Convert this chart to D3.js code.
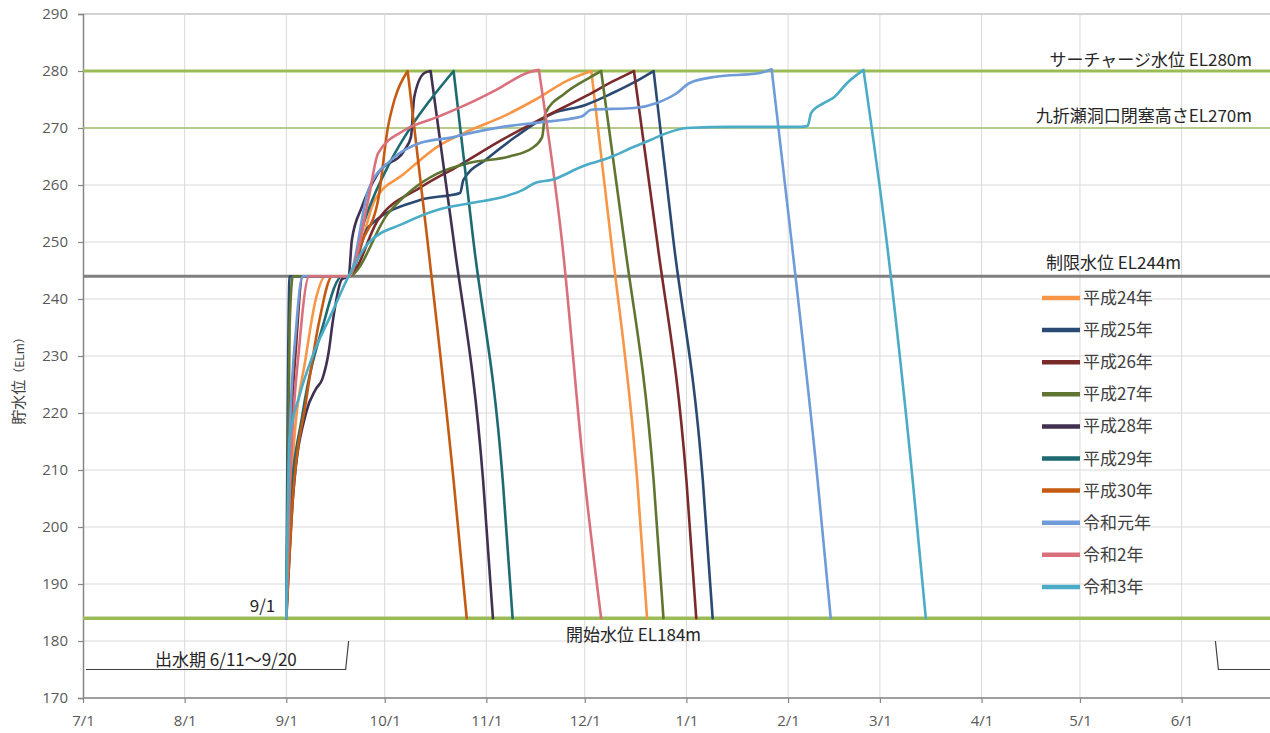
<!DOCTYPE html>
<html><head><meta charset="utf-8">
<script src="https://cdn.jsdelivr.net/npm/d3@7"></script>
<style>
body{margin:0;background:#fff}
svg{display:block}
text{font-family:"Noto Sans CJK JP","Noto Sans",sans-serif}
</style>
</head><body>
<svg id="chart" width="1270" height="733"></svg>
<script>
// ---------- data ----------
const monthTicks = ["7/1","8/1","9/1","10/1","11/1","12/1","1/1","2/1","3/1","4/1","5/1","6/1"];
const yTicks = [170,180,190,200,210,220,230,240,250,260,270,280,290];
const seriesNames = ["平成24年","平成25年","平成26年","平成27年","平成28年","平成29年","平成30年","令和元年","令和2年","令和3年"];
const seriesColors = ["#f79646","#2b4a73","#7b2a2c","#5f7530","#403152","#1d6a70","#c55a11","#6f9bd8","#d9707c","#4aacc6"];

const h24 = [["9/1",184],["9/3",212],["9/7",230],["9/10",240],["9/13",244],["9/20",244],["9/28",257.4],["10/7",262],["10/17",266.7],["10/27",269.6],["11/6",272],["11/16",275],["11/26",278.4],["12/3",280],["12/9",250.4],["12/17",208.2],["12/20",184]];
const h25 = [["9/1",184],["9/2",244],["9/20",244],["9/26",252.6],["10/12",257.4],["10/24",258.6],["10/25",260.9],["11/1",264.5],["11/10",268.5],["11/21",272.5],["12/1",274],["12/9",276],["12/16",278],["12/22",280],["12/28",250.4],["1/6",208.2],["1/9",184]];
const h26 = [["9/1",184],["9/2",210],["9/4",232],["9/6",244],["9/20",244],["9/29",253.9],["10/12",259.6],["10/23",263.2],["11/6",268],["11/19",272],["12/1",275.5],["12/10",278.3],["12/16",280],["12/23",250.4],["1/1",208.2],["1/4",184]];
const h27 = [["9/1",184],["9/2",235],["9/3",244],["9/20",244],["10/2",255],["10/9",259],["10/17",262],["10/27",263.9],["11/8",265],["11/15",266.5],["11/18",268.4],["11/19",272.6],["11/25",276.1],["12/3",279],["12/6",280],["12/13",250.4],["12/22",208.2],["12/25",184]];
const h28 = [["9/1",184],["9/3",205],["9/7",220],["9/10",224.2],["9/12",226],["9/14",231],["9/15",235.4],["9/18",243.5],["9/20",244],["9/21",250.4],["9/24",256.1],["9/29",262.1],["10/7",266.1],["10/9",268.4],["10/10",275.4],["10/13",279.6],["10/15",280],["10/22",250.4],["10/31",208.2],["11/3",184]];
const h29 = [["9/1",184],["9/2",202],["9/6",220],["9/12",235],["9/18",244],["9/20",244],["9/25",254],["10/3",264.4],["10/9",270.2],["10/15",275],["10/22",280],["10/28",250.4],["11/6",208.2],["11/9",184]];
const h30 = [["9/1",184],["9/3",205],["9/7",222],["9/11",236],["9/15",244],["9/20",244],["9/24",250],["9/29",257.4],["10/2",270.2],["10/4",275],["10/8",280],["10/14",250.4],["10/22",208.2],["10/26",184]];
const r1 = [["9/1",184],["9/2",215],["9/4",235],["9/6",244],["9/20",244],["9/26",259.1],["10/3",264.4],["10/12",267.4],["10/22",268.4],["10/27",269.1],["11/6",270.2],["11/16",270.9],["11/30",272],["12/3",273.2],["12/16",273.5],["12/23",274.4],["12/29",276.1],["1/2",277.9],["1/10",279],["1/23",279.6],["1/27",280.3],["2/2",250.4],["2/10",208.2],["2/14",184]];
const r2 = [["9/1",184],["9/2",205],["9/5",232],["9/8",244],["9/20",244],["9/26",257.4],["9/29",265.6],["10/7",269.6],["10/17",271.9],["10/27",274.4],["11/4",276.7],["11/14",279.8],["11/17",280.2],["11/24",250.4],["12/1",208.2],["12/6",184]];
const r3 = [["9/1",184],["9/2",215.4],["9/5",223],["9/9",230],["9/15",237.7],["9/20",244],["9/26",249.8],["10/7",253.3],["10/17",255.6],["10/27",256.8],["11/6",257.9],["11/12",259.1],["11/16",260.4],["11/21",260.9],["11/30",263.2],["12/9",264.9],["12/16",266.7],["12/21",267.9],["12/26",269.1],["1/1",270],["1/15",270.2],["2/5",270.2],["2/7",270.4],["2/8",272.6],["2/12",274.4],["2/15",275.4],["2/19",277.9],["2/24",280.2],["3/3",250.4],["3/11",208.2],["3/15",184]];
const seriesData = [h24,h25,h26,h27,h28,h29,h30,r1,r2,r3];

const refLevels = [280, 270, 244, 184];
const refLabels = ["サーチャージ水位 EL280m","九折瀬洞口閉塞高さEL270m","制限水位 EL244m","開始水位 EL184m"];
const floodPeriod = ["6/11","9/20"];
const floodLevels = [175, 180];
const floodLabel = "出水期 6/11～9/20";
const startLabel = "9/1";
const yTitle = "貯水位";
const yTitleUnit = "（ELm）";

// ---------- helpers ----------
function pd(s){ const [m,d]=s.split("/").map(Number); return new Date(m>=7?2021:2022, m-1, d); }

const W = 1270, H = 733;
const L = 83, T = 14, B = 698, R = 1280;
const svg = d3.select("#chart");
svg.append("rect").attr("width",W).attr("height",H).attr("fill","#fff");

const x = d3.scaleTime().domain([pd("7/1"), new Date(2022,6,1)]).range([L,R]);
const y = d3.scaleLinear().domain([170,290]).range([B,T]);

// grid
const g = svg.append("g");
g.selectAll("line.hg").data(yTicks).join("line")
  .attr("x1",L).attr("x2",W).attr("y1",d=>y(d)).attr("y2",d=>y(d))
  .attr("stroke",d=>d===290?"#a6a6a6":"#d9d9d9").attr("stroke-width",1);
g.selectAll("line.vg").data(monthTicks.slice(1)).join("line")
  .attr("x1",d=>x(pd(d))).attr("x2",d=>x(pd(d))).attr("y1",T).attr("y2",B)
  .attr("stroke","#d9d9d9").attr("stroke-width",1);

// axes
const yAxis = d3.axisLeft(y).tickValues(yTicks).tickSize(5).tickPadding(10).tickFormat(d3.format("d"));
const ay = svg.append("g").attr("transform",`translate(${L},0)`).call(yAxis);
const xAxis = d3.axisBottom(x).tickValues(monthTicks.map(pd)).tickSize(5).tickPadding(12)
  .tickFormat((d,i)=>monthTicks[i]);
const ax = svg.append("g").attr("transform",`translate(0,${B})`).call(xAxis);
[ay,ax].forEach(a=>{
  a.select(".domain").attr("stroke","#868686").attr("stroke-width",1.5);
  a.selectAll(".tick line").attr("stroke","#868686").attr("stroke-width",1.2);
  a.selectAll(".tick text").attr("fill","#595959").style("font-size","15px")
    .style("font-family","'Open Sans','Noto Sans',sans-serif");
});
ax.select(".domain").attr("d",`M${L},0H${W}`);

// reference lines
const refStyle = [
  {c:"#9bbb59", w:3},
  {c:"#a9c16a", w:1.6},
  {c:"#7f7f7f", w:3},
  {c:"#9bbb59", w:3.5}
];
svg.append("g").selectAll("line").data(refLevels).join("line")
  .attr("x1",L).attr("x2",W).attr("y1",d=>y(d)).attr("y2",d=>y(d))
  .attr("stroke",(d,i)=>refStyle[i].c).attr("stroke-width",(d,i)=>refStyle[i].w);

// flood period bracket
const fb = svg.append("g").attr("fill","none").attr("stroke","#404040").attr("stroke-width",1.2);
fb.append("path").attr("d", d3.line()([
  [x(pd("7/1"))+3, y(floodLevels[0])],
  [x(pd(floodPeriod[1]))-3, y(floodLevels[0])],
  [x(pd(floodPeriod[1])), y(floodLevels[1])]
]));
fb.append("path").attr("d", d3.line()([
  [x(pd(floodPeriod[0]))+1, y(floodLevels[1])],
  [x(pd(floodPeriod[0]))+4, y(floodLevels[0])],
  [W, y(floodLevels[0])]
]));

// series: smooth rise up to the peak, separately smoothed drawdown after it
svg.append("clipPath").attr("id","plot").append("rect")
  .attr("x",L).attr("y",0).attr("width",W-L).attr("height",B);
const smooth = d3.line().x(d=>x(pd(d[0]))).y(d=>y(d[1])).curve(d3.curveMonotoneX);
const sg = svg.append("g").attr("clip-path","url(#plot)");
seriesData.forEach((s,i)=>{
  const pk = d3.maxIndex(s, d=>d[1]);
  const p = smooth(s.slice(0,pk+1)) + smooth(s.slice(pk)).replace(/^M/,"L");
  sg.append("path").attr("d",p).attr("fill","none")
    .attr("stroke",seriesColors[i]).attr("stroke-width",2.6)
    .attr("stroke-linejoin","round").attr("stroke-linecap","round");
});

// annotation labels
const lab = svg.append("g").attr("fill","#262626").style("font-size","17px");
lab.append("text").attr("x",1252).attr("y",y(280)-5).attr("text-anchor","end").text(refLabels[0]);
lab.append("text").attr("x",1252).attr("y",y(270)-6).attr("text-anchor","end").text(refLabels[1]);
lab.append("text").attr("x",1046).attr("y",y(244)-7).text(refLabels[2]);
lab.append("text").attr("x",566).attr("y",y(184)+23).text(refLabels[3]);
lab.append("text").attr("x",155).attr("y",y(floodLevels[0])-4).text(floodLabel);
lab.append("text").attr("x",x(pd(startLabel))-11).attr("y",y(184)-6).attr("text-anchor","end").text(startLabel);

// y title
const yt = svg.append("text").attr("transform",`translate(24,${(T+B)/2+22}) rotate(-90)`)
  .attr("text-anchor","middle").attr("fill","#404040").style("font-size","15px");
yt.append("tspan").text(yTitle);
yt.append("tspan").style("font-size","12px").text(yTitleUnit);

// legend
const lg = svg.append("g");
const ly0 = 298, ldy = 32.1;
seriesNames.forEach((n,i)=>{
  const yy = ly0 + i*ldy;
  lg.append("line").attr("x1",1042).attr("x2",1080).attr("y1",yy).attr("y2",yy)
    .attr("stroke",seriesColors[i]).attr("stroke-width",4.5);
  lg.append("text").attr("x",1083).attr("y",yy+6).attr("fill","#404040")
    .style("font-size","17px").text(n);
});
</script>
</body></html>
